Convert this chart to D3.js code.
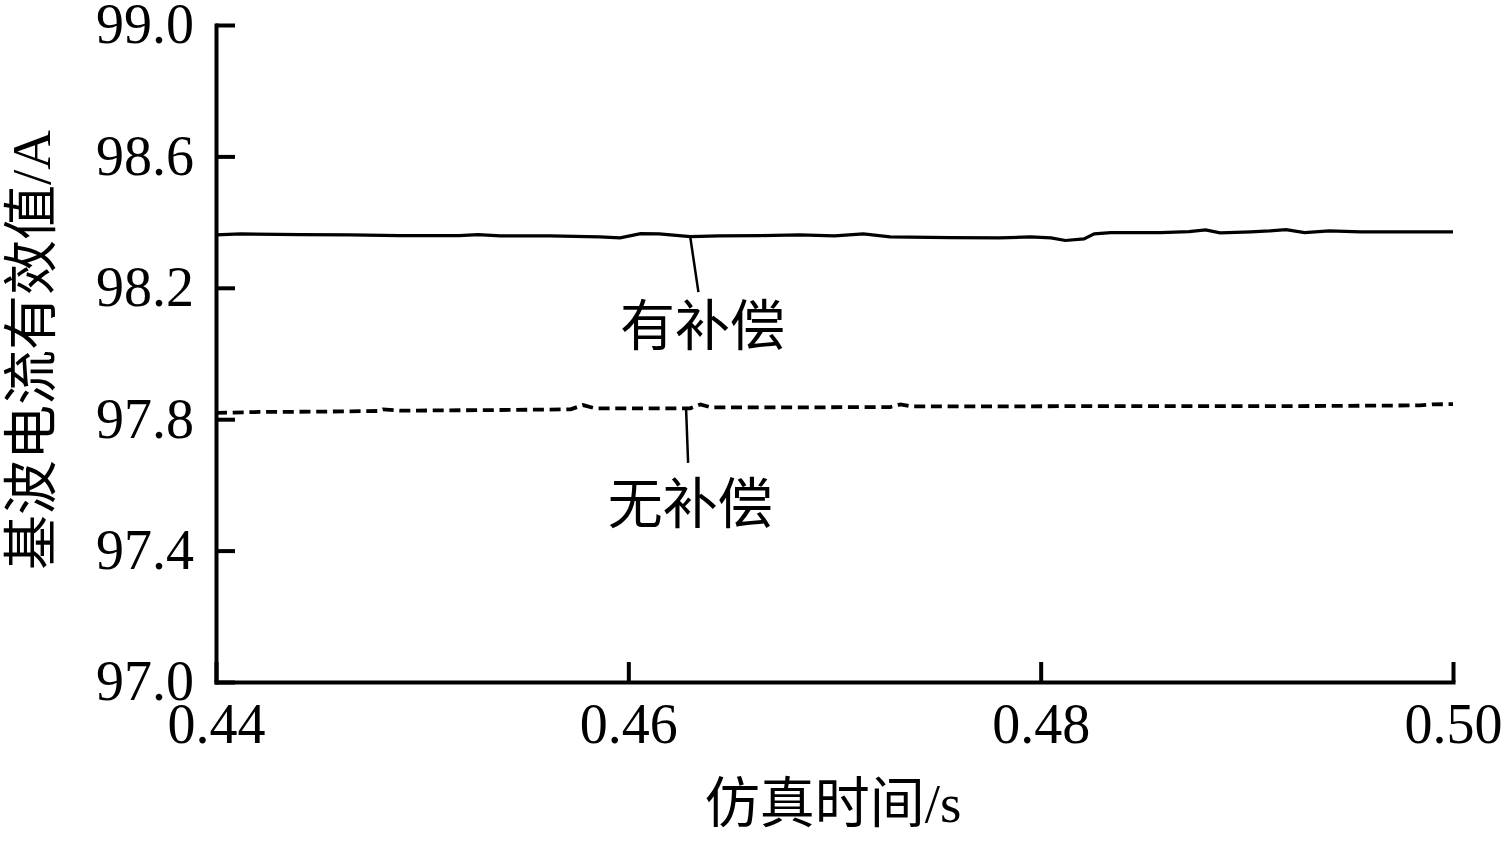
<!DOCTYPE html>
<html>
<head>
<meta charset="utf-8">
<script src="https://cdn.jsdelivr.net/npm/d3@7"></script>
<style>
  body { margin: 0; background: #fff; }
  svg { display: block; }
  .axis path, .axis line { stroke: #000; stroke-width: 4; }
  .axis text { font-family: "Liberation Serif", "Times New Roman", serif; font-size: 56px; fill: #000; }
  .title, .note { font-family: "Liberation Serif", "Noto Sans CJK SC", serif; font-size: 55px; fill: #000; }
</style>
</head>
<body>
<div id="chart"></div>
<script>
// 有补偿 / 无补偿 的基波电流有效值
var timeWith = [0.4400, 0.4412, 0.4441, 0.4465, 0.4489, 0.4518, 0.4527, 0.4538, 0.4562, 0.4586,
  0.4596, 0.4606, 0.4615, 0.4630, 0.4644, 0.4664, 0.4683, 0.4700, 0.4714, 0.4727,
  0.4756, 0.4780, 0.4795, 0.4805, 0.4812, 0.4821, 0.4826, 0.4834, 0.4858, 0.4872,
  0.4880, 0.4887, 0.4902, 0.4911, 0.4919, 0.4928, 0.4940, 0.4955, 0.5000];
var valueWith = [98.361, 98.364, 98.362, 98.361, 98.359, 98.359, 98.362, 98.358, 98.358, 98.355,
  98.352, 98.365, 98.364, 98.356, 98.358, 98.359, 98.361, 98.358, 98.364, 98.355,
  98.353, 98.352, 98.355, 98.352, 98.344, 98.349, 98.364, 98.368, 98.368, 98.371,
  98.376, 98.367, 98.370, 98.373, 98.377, 98.368, 98.373, 98.370, 98.370];

var timeWithout = [0.4400, 0.4421, 0.4450, 0.4479, 0.4481, 0.4489, 0.4538, 0.4572, 0.4578, 0.4584,
  0.4611, 0.4630, 0.4635, 0.4640, 0.4683, 0.4727, 0.4732, 0.4737, 0.4780, 0.4829,
  0.4877, 0.4926, 0.4984, 0.4990, 0.5000];
var valueWithout = [97.819, 97.822, 97.823, 97.825, 97.830, 97.826, 97.828, 97.830, 97.843, 97.833,
  97.833, 97.833, 97.845, 97.836, 97.836, 97.837, 97.845, 97.839, 97.839, 97.840,
  97.840, 97.840, 97.842, 97.845, 97.846];

var xTicks = [0.44, 0.46, 0.48, 0.50];
var yTicks = [97.0, 97.4, 97.8, 98.2, 98.6, 99.0];

// 注释：文字、引线起点、引线终点、文字位置
var noteLabels = ['有补偿', '无补偿'];
var noteFrom = [[0.4630, 98.356], [0.4628, 97.833]];
var noteTo = [[0.4634, 98.187], [0.4629, 97.667]];
var notePos = [[0.4636, 98.026], [0.4630, 97.484]];

var width = 1505;
var height = 841;
var margin = { top: 25, right: 52, bottom: 159, left: 216 };
var w = width - margin.left - margin.right;
var h = height - margin.top - margin.bottom;

var xScale = d3.scaleLinear().domain([0.44, 0.50]).range([0, w]);
var yScale = d3.scaleLinear().domain([97.0, 99.0]).range([h, 0]);

var svg = d3.select('#chart').append('svg')
  .attr('width', width).attr('height', height);

var g = svg.append('g')
  .attr('transform', 'translate(' + margin.left + ',' + margin.top + ')');

// 轴（刻度朝内）
g.append('g').attr('class', 'axis')
  .attr('transform', 'translate(0,' + h + ')')
  .call(d3.axisBottom(xScale).tickValues(xTicks).tickFormat(d3.format('.2f'))
    .tickSizeInner(-20).tickSizeOuter(0).tickPadding(21));

g.append('g').attr('class', 'axis')
  .call(d3.axisLeft(yScale).tickValues(yTicks).tickFormat(d3.format('.1f'))
    .tickSizeInner(-19).tickSizeOuter(0).tickPadding(22));

g.selectAll('.axis path').attr('stroke-linecap', 'square');

var line = d3.line()
  .x(function(d) { return xScale(d[0]); })
  .y(function(d) { return yScale(d[1]); });

g.append('path')
  .datum(d3.zip(timeWith, valueWith))
  .attr('fill', 'none').attr('stroke', '#000').attr('stroke-width', 3.2)
  .attr('d', line);

g.append('path')
  .datum(d3.zip(timeWithout, valueWithout))
  .attr('fill', 'none').attr('stroke', '#000').attr('stroke-width', 3.8)
  .attr('stroke-dasharray', '11,5.7')
  .attr('d', line);

// 引线与标注
noteLabels.forEach(function(t, i) {
  g.append('line')
    .attr('x1', xScale(noteFrom[i][0])).attr('y1', yScale(noteFrom[i][1]))
    .attr('x2', xScale(noteTo[i][0])).attr('y2', yScale(noteTo[i][1]))
    .attr('stroke', '#000').attr('stroke-width', 2.5);
  g.append('text').attr('class', 'note')
    .attr('x', xScale(notePos[i][0])).attr('y', yScale(notePos[i][1]))
    .attr('text-anchor', 'middle')
    .text(t);
});

// 轴标题
svg.append('text').attr('class', 'title')
  .attr('x', 833).attr('y', 822)
  .attr('text-anchor', 'middle')
  .text('仿真时间/s');

svg.append('text').attr('class', 'title')
  .attr('transform', 'translate(50,350) rotate(-90)')
  .attr('text-anchor', 'middle')
  .text('基波电流有效值/A');
</script>
</body>
</html>
